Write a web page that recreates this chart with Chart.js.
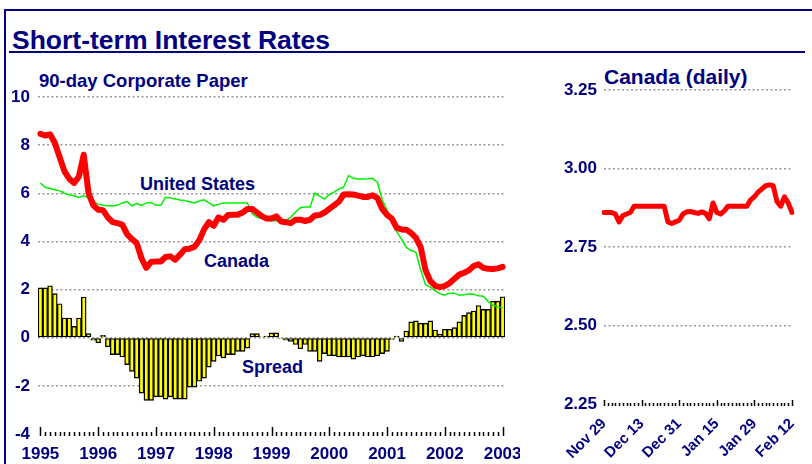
<!DOCTYPE html>
<html>
	<head>
		<meta charset="UTF-8">
		<title>Short-term Interest Rates</title>
		<script src="https://cdn.jsdelivr.net/npm/chart.js@4.4.1/dist/chart.umd.min.js"></script>
		<style type="text/css">
			*{
				margin: 0;
				padding: 0;
			}
			body{
				width: 812px;
				height: 464px;
				overflow: hidden;
				background: #fff;
				font-family: "Liberation Sans", Arial, sans-serif;
				color: #000080;
				position: relative;
			}
			#frame{
				position: absolute;
				left: 4px;
				top: 9px;
				width: 820px;
				height: 470px;
				border-top: 2px solid #000080;
				border-left: 2px solid #000080;
			}
			#rule{
				position: absolute;
				left: 9px;
				top: 51px;
				width: 796px;
				height: 2px;
				background: #000080;
			}
			.txt{
				position: absolute;
				font-weight: bold;
				line-height: 1;
				white-space: nowrap;
			}
			canvas{
				position: absolute;
				top: 0;
			}
		</style>
	</head>
	<body>
		<div id="frame"></div>
		<div id="rule"></div>
		<div class="txt" style="left:12px;top:27px;font-size:26.5px">Short-term Interest Rates</div>
		<div class="txt" style="left:39px;top:71.5px;font-size:18.5px">90-day Corporate Paper</div>
		<div class="txt" style="left:604px;top:65.6px;font-size:21px">Canada (daily)</div>
		<div class="txt" style="left:140px;top:174.8px;font-size:18px">United States</div>
		<div class="txt" style="left:204px;top:251.5px;font-size:18px">Canada</div>
		<div class="txt" style="left:242px;top:357.8px;font-size:18px">Spread</div>
		<canvas id="left" width="520" height="464" style="left:0"></canvas>
		<canvas id="right" width="292" height="464" style="left:520px"></canvas>
		<script type="text/javascript">
			var navy = "#000080";

			// tick labels
			var years = ["1995","1996","1997","1998","1999","2000","2001","2002","2003"];
			var monthNames = ["Jan","Feb","Mar","Apr","May","Jun","Jul","Aug","Sep","Oct","Nov","Dec"];

			// 90-day corporate paper, monthly, Jan 1995 - Jan 2003
			var canada = [8.47,8.40,8.45,8.09,7.50,6.91,6.60,6.43,6.70,7.60,
				6.00,5.50,5.32,5.30,5.00,4.80,4.76,4.70,4.30,4.10,
				3.93,3.30,2.90,3.15,3.17,3.17,3.35,3.38,3.24,3.45,
				3.68,3.70,3.78,4.05,4.50,4.80,4.65,5.00,4.90,5.10,
				5.11,5.11,5.20,5.35,5.35,5.20,5.05,4.95,4.95,5.04,
				4.83,4.80,4.76,4.90,4.90,4.85,4.90,5.08,5.10,5.20,
				5.35,5.50,5.65,5.95,5.96,5.95,5.90,5.85,5.85,5.92,
				5.80,5.35,5.10,4.95,4.56,4.50,4.49,4.35,4.15,3.75,
				2.80,2.35,2.15,2.10,2.15,2.27,2.45,2.62,2.70,2.80,
				2.98,3.05,2.90,2.86,2.85,2.88,2.94];
			var unitedStates = [6.43,6.25,6.20,6.15,6.10,6.00,5.93,5.90,5.83,5.90,
				5.80,5.65,5.55,5.50,5.48,5.48,5.50,5.60,5.66,5.48,
				5.57,5.50,5.60,5.62,5.50,5.50,5.83,5.80,5.76,5.72,
				5.70,5.65,5.60,5.68,5.73,5.60,5.48,5.55,5.60,5.60,
				5.60,5.60,5.60,5.60,5.15,5.00,4.95,4.88,4.86,4.86,
				4.86,4.87,5.00,5.22,5.40,5.43,5.43,6.01,5.88,5.76,
				5.95,6.05,6.18,6.25,6.74,6.62,6.59,6.59,6.60,6.62,
				6.45,5.73,5.30,4.85,4.42,4.10,3.75,3.62,3.55,2.80,
				2.20,2.10,1.95,1.82,1.78,1.85,1.85,1.76,1.78,1.83,
				1.80,1.74,1.72,1.50,1.35,1.28,1.23];
			var spread = [2.07,2.07,2.16,1.83,1.41,0.82,0.82,0.47,0.82,1.69,
				0.17,-0.10,-0.21,0.10,-0.38,-0.70,-0.70,-0.80,-1.12,-1.40,
				-1.68,-2.30,-2.60,-2.60,-2.46,-2.46,-2.55,-2.46,-2.55,-2.55,
				-2.55,-2.05,-2.05,-1.81,-1.68,-1.22,-0.98,-0.76,-0.84,-0.70,
				-0.70,-0.57,-0.57,-0.43,0.17,0.17,0.04,0.07,0.20,0.20,
				-0.05,-0.10,-0.15,-0.28,-0.46,-0.28,-0.57,-0.57,-0.98,-0.66,
				-0.75,-0.75,-0.80,-0.80,-0.80,-0.89,-0.80,-0.75,-0.80,-0.80,
				-0.75,-0.66,-0.57,-0.07,0.07,-0.15,0.28,0.66,0.70,0.60,
				0.60,0.70,0.32,0.15,0.35,0.35,0.42,0.66,0.93,1.04,
				1.11,1.34,1.18,1.18,1.52,1.52,1.70];

			// Canada daily, business days Nov 29 2002 - Feb 12 2003
			var dailyDates = ["Nov 29","Dec 2","Dec 3","Dec 4","Dec 5","Dec 6","Dec 9","Dec 10","Dec 11","Dec 12",
				"Dec 13","Dec 16","Dec 17","Dec 18","Dec 19","Dec 20","Dec 23","Dec 24","Dec 27","Dec 30",
				"Dec 31","Jan 2","Jan 3","Jan 6","Jan 7","Jan 8","Jan 9","Jan 10","Jan 13","Jan 14",
				"Jan 15","Jan 16","Jan 17","Jan 20","Jan 21","Jan 22","Jan 23","Jan 24","Jan 27","Jan 28",
				"Jan 29","Jan 30","Jan 31","Feb 3","Feb 4","Feb 5","Feb 6","Feb 7","Feb 10","Feb 11",
				"Feb 12"];
			var canadaDaily = [2.86,2.86,2.86,2.855,2.83,2.85,2.855,2.86,2.88,2.88,
				2.88,2.88,2.88,2.88,2.88,2.88,2.88,2.83,2.825,2.83,
				2.835,2.855,2.862,2.863,2.86,2.857,2.862,2.857,2.84,2.89,
				2.86,2.855,2.865,2.88,2.88,2.88,2.88,2.88,2.88,2.90,
				2.91,2.925,2.935,2.945,2.948,2.945,2.895,2.88,2.91,2.89,
				2.86];

			var monthLabels = [];
			for(let i=0;i<canada.length;i++){
				monthLabels.push(monthNames[i%12]+" "+years[Math.floor(i/12)]);
			}

			Chart.defaults.font.family = '"Liberation Sans", Arial, sans-serif';
			Chart.defaults.animation = false;

			// little tick marks standing on the bottom of the plot
			var tickRow = {
				id: "tickRow",
				afterDatasetsDraw(chart, args, opts){
					var xs = chart.scales.x, c = chart.ctx;
					var base = chart.chartArea.bottom + opts.drop;
					c.save();
					c.strokeStyle = "#000";
					c.lineWidth = 1.5;
					for(let i=0;i<chart.data.labels.length;i++){
						var x = Math.round(xs.getPixelForValue(i)) + 0.5;
						var len = i%opts.every==0 ? opts.major : opts.minor;
						c.beginPath();
						c.moveTo(x, base);
						c.lineTo(x, base-len);
						c.stroke();
					}
					c.restore();
				}
			};

			function gridColor(bottom){
				return function(ctx){
					return ctx.tick && ctx.tick.value==bottom ? "rgba(0,0,0,0)" : "#9a9a9a";
				};
			}

			new Chart(document.getElementById("left"), {
				type: "bar",
				data: {
					labels: monthLabels,
					datasets: [
						{type:"line", label:"Canada", data:canada, borderColor:"#ff0000", borderWidth:6,
							pointRadius:0, tension:0, borderJoinStyle:"round", borderCapStyle:"round", order:0},
						{type:"line", label:"United States", data:unitedStates, borderColor:"#00f000", borderWidth:1.5,
							pointRadius:0, tension:0, order:1},
						{label:"Spread", data:spread, backgroundColor:"#ffff00", borderColor:"#000", borderWidth:1.4,
							borderSkipped:false, barPercentage:1, categoryPercentage:1, order:2}
					]
				},
				plugins: [tickRow],
				options: {
					responsive: false,
					layout: {padding: {left:0, top:97, right:15, bottom:0}},
					plugins: {
						legend: {display:false},
						tooltip: {enabled:false},
						tickRow: {drop:2, every:12, major:9, minor:4}
					},
					scales: {
						x: {
							offset: true,
							grid: {display:false, drawTicks:false},
							border: {display:false},
							ticks: {autoSkip:false, maxRotation:0, color:navy, padding:10,
								font:{size:17, weight:"bold"},
								callback: function(v,i){ return i%12==0 ? years[i/12] : null; }},
							afterFit: function(s){ s.height=30; s.paddingLeft=0; s.paddingRight=0; }
						},
						y: {
							min: -4, max: 10,
							grid: {color:gridColor(-4), lineWidth:1.5, drawTicks:false},
							border: {display:false, dash:[2,2.5]},
							ticks: {stepSize:2, color:navy, padding:8, font:{size:17, weight:"bold"}},
							afterFit: function(s){ s.width=38; s.paddingTop=0; s.paddingBottom=0; }
						}
					}
				}
			});

			new Chart(document.getElementById("right"), {
				type: "line",
				data: {
					labels: dailyDates,
					datasets: [
						{label:"Canada (daily)", data:canadaDaily, borderColor:"#ff0000", borderWidth:5,
							pointRadius:0, tension:0, borderJoinStyle:"round", borderCapStyle:"round"}
					]
				},
				plugins: [tickRow],
				options: {
					responsive: false,
					layout: {padding: {left:0, top:90, right:20, bottom:0}},
					plugins: {
						legend: {display:false},
						tooltip: {enabled:false},
						tickRow: {drop:2, every:10, major:6, minor:3}
					},
					scales: {
						x: {
							grid: {display:false, drawTicks:false},
							border: {display:false},
							ticks: {autoSkip:false, minRotation:45, maxRotation:45, color:navy, padding:11,
								font:{size:15, weight:"bold"},
								callback: function(v,i){ return i%10==0 ? dailyDates[i] : null; }},
							afterFit: function(s){ s.height=60; s.paddingLeft=0; s.paddingRight=0; }
						},
						y: {
							min: 2.25, max: 3.25,
							grid: {color:gridColor(2.25), lineWidth:1.5, drawTicks:false},
							border: {display:false, dash:[2,2.5]},
							ticks: {stepSize:0.25, color:navy, padding:7, font:{size:17, weight:"bold"},
								callback: function(v){ return v.toFixed(2); }},
							afterFit: function(s){ s.width=84; s.paddingTop=0; s.paddingBottom=0; }
						}
					}
				}
			});
		</script>
	</body>
</html>
